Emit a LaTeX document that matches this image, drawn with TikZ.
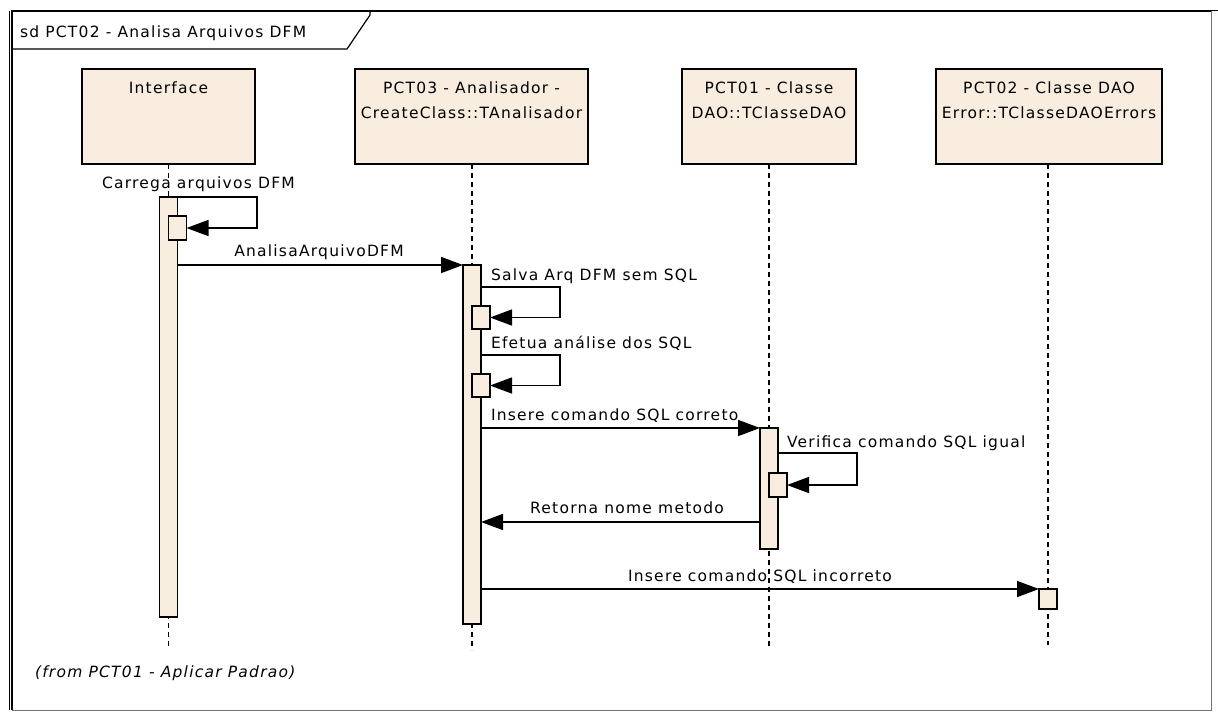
\documentclass[tikz,border=0pt]{standalone}
\usepackage{fontspec}
\setmainfont{DejaVu Sans}[LetterSpace=8]
\usetikzlibrary{arrows.meta}
\definecolor{objfill}{RGB}{249,237,224}
\begin{document}
\begin{tikzpicture}[x=1pt,y=-1pt,
  every node/.style={font=\fontsize{15.5}{18}\selectfont, inner sep=0pt, outer sep=0pt},
  headbox/.style={draw=black, line width=1.5pt, fill=objfill, minimum height=95pt},
  actbar/.style={draw=black, line width=1.4pt, fill=objfill, minimum width=18pt},
  lifeline/.style={line width=1.6pt, dash pattern=on 5pt off 4pt},
  msg/.style={line width=1.5pt, -{Triangle[length=22pt,width=16pt]}},
  lbl/.style={anchor=base west},
  clbl/.style={anchor=base}]
\useasboundingbox (0,0) rectangle (1218,713);
\fill[white] (0,0) rectangle (1218,713);

% diagram frame and name tab
\draw[black!55, line width=1pt] (1211,11) -- (1211,710) -- (12,710);
\draw[line width=1.4pt] (12,710) -- (12,11) -- (1211,11);
\draw[line width=1pt] (9.5,11) -- (9.5,710);
\draw[line width=1pt] (12,10) -- (1218,10);
\draw[line width=1.2pt] (12,49) -- (347,49) -- (370,15) -- (370,11);
\node[lbl] (title) at (20,37) {sd PCT02 - Analisa Arquivos DFM};

% lifeline heads
\node[headbox, minimum width=173pt] (iface) at (168.5,116.5) {};
\node[headbox, minimum width=233pt] (analis) at (471.5,116.5) {};
\node[headbox, minimum width=174pt] (dao) at (769,116.5) {};
\node[headbox, minimum width=226pt] (daoerr) at (1049,116.5) {};
\node[clbl] (ifaceT) at (168.5,93.5) {Interface};
\node[clbl] (analisT1) at (471.5,93.5) {PCT03 - Analisador -};
\node[clbl] (analisT2) at (471.5,118) {CreateClass::TAnalisador};
\node[clbl] (daoT1) at (769,93.5) {PCT01 - Classe};
\node[clbl] (daoT2) at (769,118) {DAO::TClasseDAO};
\node[clbl] (daoerrT1) at (1049,93.5) {PCT02 - Classe DAO};
\node[clbl] (daoerrT2) at (1049,118) {Error::TClasseDAOErrors};

% lifeline ends
\coordinate (ifaceEnd) at (168.5,648);
\coordinate (analisEnd) at (472,650);
\coordinate (daoEnd) at (769,647);
\coordinate (daoerrEnd) at (1048,645);
\draw[lifeline] (iface.south -| ifaceEnd) -- (ifaceEnd);
\draw[lifeline] (analis.south -| analisEnd) -- (analisEnd);
\draw[lifeline] (dao.south -| daoEnd) -- (daoEnd);
\draw[lifeline] (daoerr.south -| daoerrEnd) -- (daoerrEnd);

% activation bars
\node[actbar, minimum height=420pt] (act1) at (168.5,407) {};
\node[actbar, minimum height=359pt] (act2) at (472,444.5) {};
\node[actbar, minimum height=121pt] (act3) at (769,488.5) {};
\node[actbar, minimum height=20pt] (act4) at (1048,599) {};

% nested executions of self messages
\node[actbar, minimum height=24pt] (n1) at (177.5,228) {};
\node[actbar, minimum height=23pt] (n2) at (481,317.5) {};
\node[actbar, minimum height=23pt] (n3) at (481,385.5) {};
\node[actbar, minimum height=24pt] (n4) at (778,485) {};

% self messages
\coordinate (s1) at (168.5,197);
\coordinate (s2) at (472,287);
\coordinate (s3) at (472,355);
\coordinate (s4) at (769,453);
\draw[msg] (act1.east |- s1) -- ++(79.5,0) |- (n1.east);
\draw[msg] (act2.east |- s2) -- ++(79,0) |- (n2.east);
\draw[msg] (act2.east |- s3) -- ++(79,0) |- (n3.east);
\draw[msg] (act3.east |- s4) -- ++(79,0) |- (n4.east);
\node[lbl] (l1) at (102,188.5) {Carrega arquivos DFM};
\node[lbl] (l2) at (491,280.5) {Salva Arq DFM sem SQL};
\node[lbl] (l3) at (491,348) {Efetua análise dos SQL};
\node[lbl] (l4) at (787,447) {Verifica comando SQL igual};

% messages between lifelines
\coordinate (retY) at (769,522);
\draw[msg] (act1.east |- act2.north west) -- (act2.north west);
\draw[msg] (act2.east |- act3.north west) -- (act3.north west);
\draw[msg] (act3.west |- retY) -- (act2.east |- retY);
\draw[msg] (act2.east |- act4.north west) -- (act4.north west);
\node[clbl] (m1) at (319,256.5) {AnalisaArquivoDFM};
\node[lbl] (m2) at (491,420) {Insere comando SQL correto};
\node[clbl] (m3) at (627,513) {Retorna nome metodo};
\node[clbl] (m4) at (760,581) {Insere comando SQL incorreto};

% package note
\node[lbl, font=\fontsize{15.5}{18}\selectfont\itshape] (from) at (35,677) {(from PCT01 - Aplicar Padrao)};
\end{tikzpicture}
\end{document}
